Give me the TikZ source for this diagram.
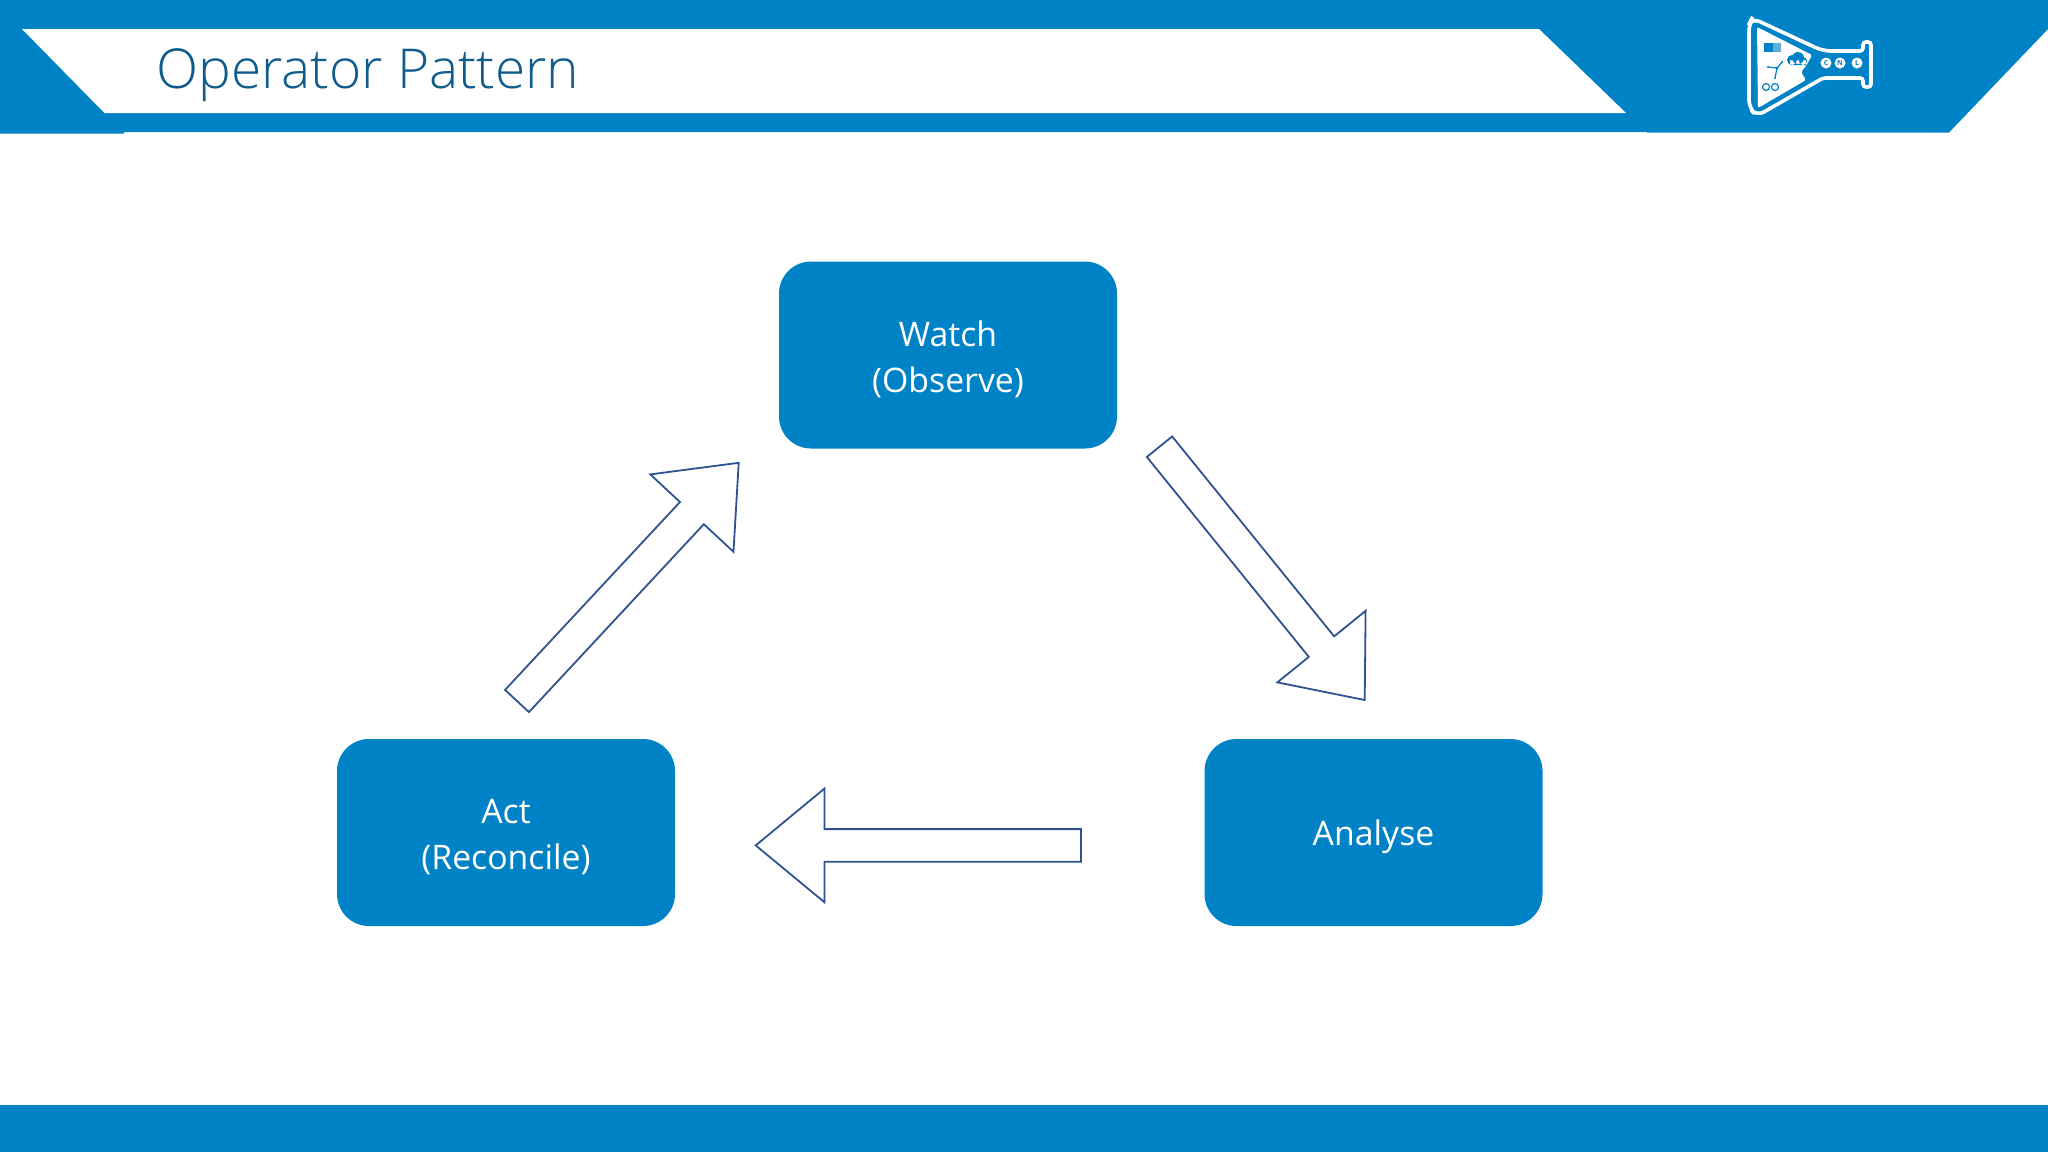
\documentclass[tikz,border=0pt]{standalone}
\usepackage{fontspec}
\setmainfont{Open Sans}
\newfontfamily\titlefont{Open Sans Light}
\usepackage{tkz-graph}
\usetikzlibrary{calc}

\definecolor{bannerblue}{HTML}{0082C6}
\definecolor{titleblue}{HTML}{0F5C8C}
\definecolor{arrowblue}{HTML}{2F5291}

\begin{document}
\begin{tikzpicture}[x=0.5pt,y=-0.5pt]
\useasboundingbox (0,0) rectangle (2048,1152);
\tikzset{VertexStyle/.style =
	{fill = bannerblue,
		shape = rectangle,
		rounded corners = 16pt,
		minimum width = 169pt,
		minimum height = 93.5pt,
		outer sep = 0pt,
		align = center,
		font = \fontsize{16.9}{23}\selectfont,
		execute at begin node = {\rule{0pt}{17.5pt}},
		text = white}}
\tikzset{twolines/.style = {execute at begin node = {\rule{0pt}{40pt}}}}
\tikzset{blockarrow/.style =
	{draw = arrowblue,
		line width = 0.9pt,
		miter limit = 10,
		to path = {($(\tikztostart)!8.15pt!90:(\tikztotarget)$)
			-- ($($(\tikztotarget)!34.35pt!(\tikztostart)$)!8.15pt!90:(\tikztotarget)$)
			-- ($($(\tikztotarget)!34.35pt!(\tikztostart)$)!28.4pt!90:(\tikztotarget)$)
			-- (\tikztotarget)
			-- ($($(\tikztotarget)!34.35pt!(\tikztostart)$)!28.4pt!-90:(\tikztotarget)$)
			-- ($($(\tikztotarget)!34.35pt!(\tikztostart)$)!8.15pt!-90:(\tikztotarget)$)
			-- ($(\tikztostart)!8.15pt!-90:(\tikztotarget)$)
			-- cycle}}}
\tikzset{logoline/.style = {draw = white, line width = 1.8pt}}
\tikzset{logoicon/.style = {draw = bannerblue, line width = 0.6pt}}
\tikzset{logoletter/.style =
	{circle, fill = white, inner sep = 0pt, minimum size = 5.5pt,
		text = bannerblue, font = \fontsize{3.5}{4}\selectfont\bfseries}}
% banner
\fill[bannerblue] (0,0) -- (2048,0) -- (2048,29) -- (1949,132.5) -- (1647,132.5)
	-- (1647,132) -- (124,132) -- (124,133.5) -- (0,133.5) -- cycle;
\fill[white] (22,29) -- (1539,29) -- (1626,113) -- (104.5,113) -- cycle;
\fill[bannerblue] (0,1105) rectangle (2048,1152);
\node[anchor = base west, inner sep = 0pt, text = titleblue,
	font = \titlefont\fontsize{27.5}{30}\selectfont] (Title) at (156,88) {Operator Pattern};
% logo
\fill[white, rounded corners = 1pt] (1757,27) -- (1812,55) -- (1806,66) -- (1801,72) -- (1806,80)
	-- (1758,108) -- cycle;
\draw[logoline, rounded corners = 4pt] (1749,24) -- (1752,18) -- (1823,51)
	[rounded corners = 1.5pt] -- (1863,51) -- (1863,42) -- (1871,42)
	-- (1871,87) -- (1863,87) -- (1863,78) -- (1823,78)
	[rounded corners = 4pt] -- (1757,116) -- (1749,108) -- cycle;
\fill[bannerblue] (1764,43) rectangle (1773,52);
\fill[bannerblue!65] (1773,43) rectangle (1781,52);
\fill[bannerblue] (1792,60) circle[radius = 5] (1798,58) circle[radius = 6]
	(1803,61) circle[radius = 4] (1790,60) rectangle (1806,65);
\draw[logoicon] (1777,68) -- (1782,62) (1777,68) -- (1768,67) (1777,68) -- (1775,78);
\fill[bannerblue] (1777,68) circle[radius = 1.6] (1782,62) circle[radius = 1.2]
	(1768,67) circle[radius = 1.2] (1775,78) circle[radius = 1.2];
\draw[logoicon] (1766,87) circle[radius = 3.5] (1775,87) circle[radius = 3.5];
\node[logoletter] (LogoC) at (1826,63) {C};
\node[logoletter] (LogoN) at (1840,63) {N};
\node[logoletter] (LogoL) at (1857,63) {L};
% boxes
\Vertex[x = 948, y = 355, style = twolines, L = {Watch\\(Observe)}]{Watch}
\Vertex[x = 1373.5, y = 832.5, L = {Analyse}]{Analyse}
\Vertex[x = 506, y = 832.5, style = twolines, L = {Act\\(Reconcile)}]{Act}
% arrows
\coordinate (WatchOut) at ($(Watch.south east)+(42.5,-1.8)$);
\coordinate (AnalyseIn) at ($(Analyse.north)+(-8.8,-39)$);
\coordinate (AnalyseOut) at ($(Analyse.west)+(-123.5,12.9)$);
\coordinate (ActIn) at ($(Act.east)+(80.7,12.9)$);
\coordinate (ActOut) at ($(Act.north)+(11,-38)$);
\coordinate (WatchIn) at ($(Watch.south west)+(-40.3,14.3)$);
\draw[blockarrow] (WatchOut) to (AnalyseIn);
\draw[blockarrow] (AnalyseOut) to (ActIn);
\draw[blockarrow] (ActOut) to (WatchIn);
\end{tikzpicture}
\end{document}
